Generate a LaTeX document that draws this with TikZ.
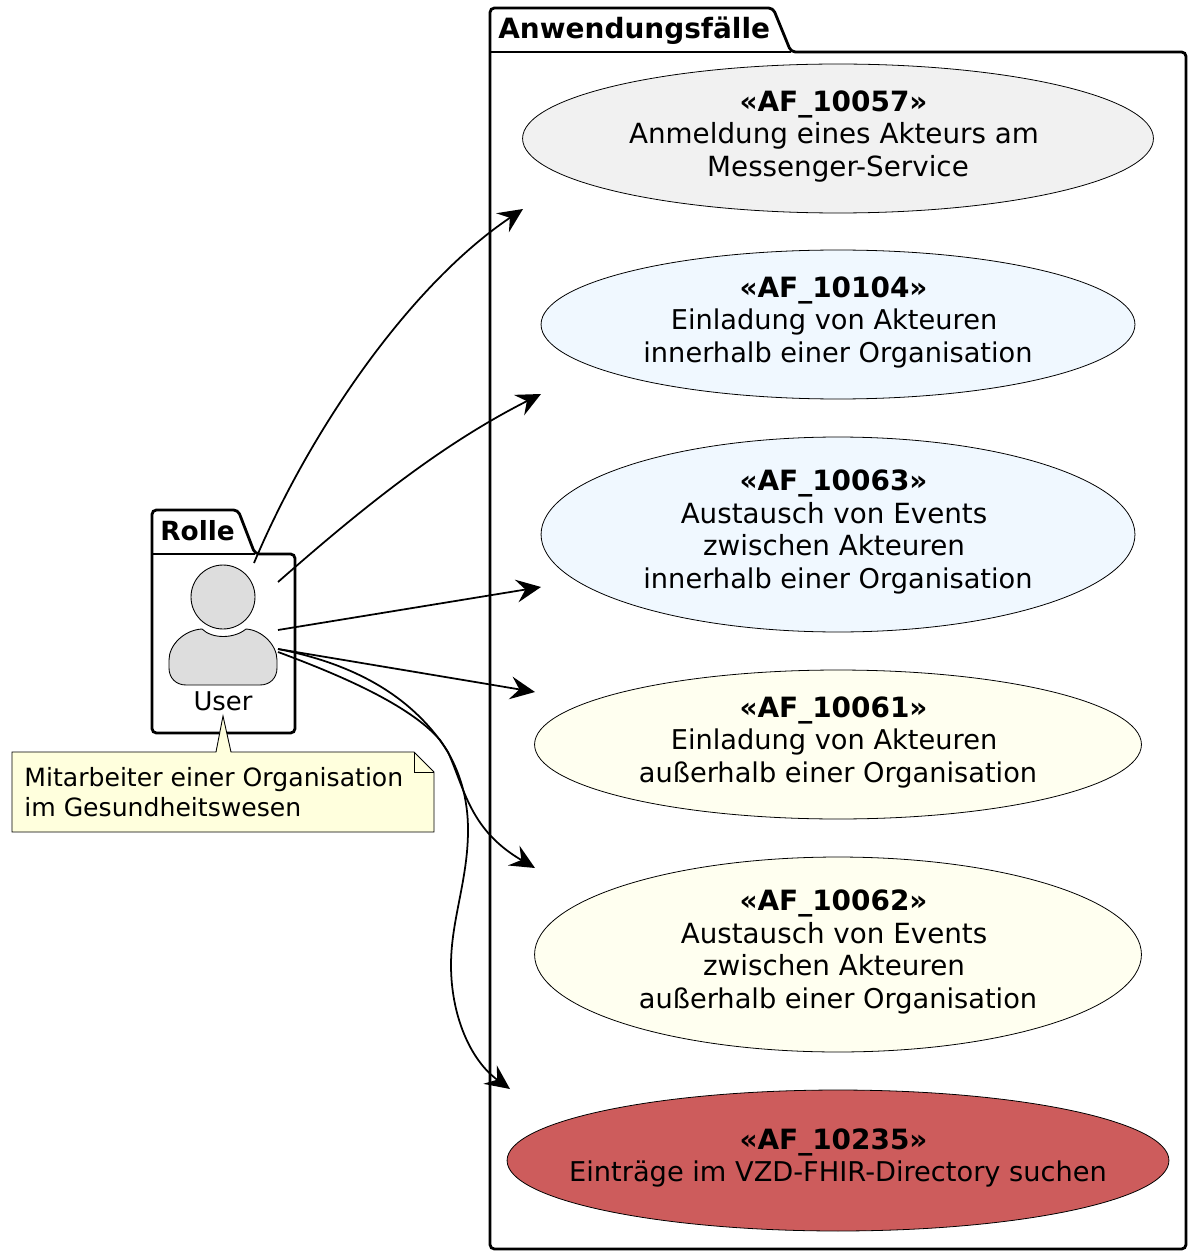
\documentclass[tikz,border=0pt]{standalone}
\usepackage{fontspec}
\setmainfont{DejaVu Sans}
\usetikzlibrary{arrows.meta,shapes.geometric}
\definecolor{ucgrey}{HTML}{F1F1F1}
\definecolor{ucblue}{HTML}{F0F8FF}
\definecolor{ucivory}{HTML}{FFFFF0}
\definecolor{ucred}{HTML}{CD5C5C}
\definecolor{notefill}{HTML}{FFFFDD}
\definecolor{actorfill}{HTML}{DDDDDD}
\newcommand{\afid}[1]{{\fontsize{15.9}{18.5}\selectfont\textbf{«AF\_#1»}}\rule{0.18cm}{0pt}}
\newcommand{\aflast}{\rule[-6pt]{0pt}{6pt}}
\newcommand{\afwide}[1]{{\fontsize{15.8}{18.5}\selectfont #1}}
\newcommand{\aftrail}{\rule{0.16cm}{0pt}}
\tikzset{
  usecase/.style={ellipse, draw, line width=0.45pt, inner xsep=-2cm, inner ysep=-1cm, align=center, font=\fontsize{15.5}{18.5}\selectfont, minimum height=#1},
  pkgline/.style={line width=1.6pt, rounded corners=2.5pt},
  pkgtitle/.style={anchor=base west, inner sep=0pt, font=\fontsize{15.9}{18.5}\selectfont\bfseries},
  flow/.style={-{Stealth[length=14pt,width=13pt,inset=5pt]}, line width=1pt},
  thinline/.style={line width=0.5pt}
}
\begin{document}
\begin{tikzpicture}[x=0.02cm,y=-0.02cm]
      \useasboundingbox (0,0) rectangle (1198,1260);
      % packages
      \draw[pkgline] (490,52) -- (490,8) -- (773,8) -- (791,52) -- (1186,52) -- (1186,1249) -- (490,1249) -- cycle;
      \draw[line width=1.6pt] (490,52) -- (791,52);
      \node[pkgtitle] at (498,39) (titleuse) {Anwendungsfälle};
      \draw[pkgline] (152,554) -- (152,510) -- (238,510) -- (255,554) -- (295,554) -- (295,733) -- (152,733) -- cycle;
      \draw[line width=1.6pt] (152,554) -- (255,554);
      \node[pkgtitle, font=\fontsize{15}{18}\selectfont\bfseries] at (160,540) (titlerole) {Rolle};
      % use cases
      \node[usecase=2.98cm, minimum width=12.62cm, fill=ucgrey] at (838,138.5) (af57) {\afid{10057}\\\afwide{Anmeldung eines Akteurs am}\aftrail\\\afwide{Messenger-Service}\aflast};
      \node[usecase=2.98cm, minimum width=11.88cm, fill=ucblue] at (838,324.5) (af104) {\afid{10104}\\Einladung von Akteuren\aftrail\\innerhalb einer Organisation\aflast};
      \node[usecase=3.90cm, minimum width=11.88cm, fill=ucblue] at (838,534.5) (af63) {\afid{10063}\\\afwide{Austausch von Events}\aftrail\\\afwide{zwischen Akteuren}\aftrail\\innerhalb einer Organisation\aflast};
      \node[usecase=2.98cm, minimum width=12.14cm, fill=ucivory] at (838,744.5) (af61) {\afid{10061}\\Einladung von Akteuren\aftrail\\außerhalb einer Organisation\aflast};
      \node[usecase=3.90cm, minimum width=12.14cm, fill=ucivory] at (838,954.5) (af62) {\afid{10062}\\\afwide{Austausch von Events}\aftrail\\\afwide{zwischen Akteuren}\aftrail\\außerhalb einer Organisation\aflast};
      \node[usecase=2.82cm, minimum width=13.24cm, fill=ucred] at (838,1160.5) (af235) {\afid{10235}\\Einträge im VZD-FHIR-Directory suchen\aflast};
      % actor
      \node[circle, draw, thinline, fill=actorfill, minimum size=1.28cm, inner sep=0pt] at (223,597) (head) {};
      \draw[thinline, fill=actorfill] (202,629) .. controls (212,639) and (234,639) .. (246,629)
        .. controls (262,630) and (277,645) .. (277,660) -- (277,668)
        .. controls (277,678) and (270,685) .. (260,685) -- (186,685)
        .. controls (176,685) and (169,678) .. (169,668) -- (169,660)
        .. controls (169,645) and (184,630) .. (202,629) -- cycle;
      \node[font=\fontsize{14.7}{17}\selectfont, inner sep=0pt] at (223,701) (user) {User};
      % note
      \draw[thinline, fill=notefill] (12,752) -- (216,752) -- (223,716) -- (231,752) -- (414,752) -- (434,772) -- (434,832) -- (12,832) -- cycle;
      \draw[thinline] (414,752) -- (414,772) -- (434,772);
      \node[anchor=west, align=left, inner sep=0pt, font=\fontsize{14.3}{17}\selectfont] at (24,792) (note) {Mitarbeiter einer Organisation\\im Gesundheitswesen};
      % connector ends
      \coordinate (from57) at (254,563);
      \coordinate (from104) at (278,582);
      \coordinate (from63) at (278,630);
      \coordinate (from61) at (278,649);
      \coordinate (from62) at (278,649);
      \coordinate (from235) at (278,652);
      \coordinate (to57) at (523,209);
      \coordinate (to104) at (541,394);
      \coordinate (to63) at (541,587);
      \coordinate (to61) at (535,692);
      \coordinate (to62) at (535,868);
      \coordinate (to235) at (510,1089);
      \draw[flow] (from57) .. controls (310,430) and (410,285) .. (to57);
      \draw[flow] (from104) .. controls (360,510) and (440,445) .. (to104);
      \draw[flow] (from63) -- (to63);
      \draw[flow] (from61) -- (to61);
      \draw[flow] (from62) .. controls (360,665) and (415,700) .. (448,752)
        .. controls (465,790) and (470,830) .. (to62);
      \draw[flow] (from235) .. controls (340,675) and (410,705) .. (440,740)
        .. controls (465,775) and (468,810) .. (468,830)
        .. controls (468,880) and (451,920) .. (451,965)
        .. controls (451,1015) and (470,1060) .. (to235);
      \end{tikzpicture}
\end{document}
